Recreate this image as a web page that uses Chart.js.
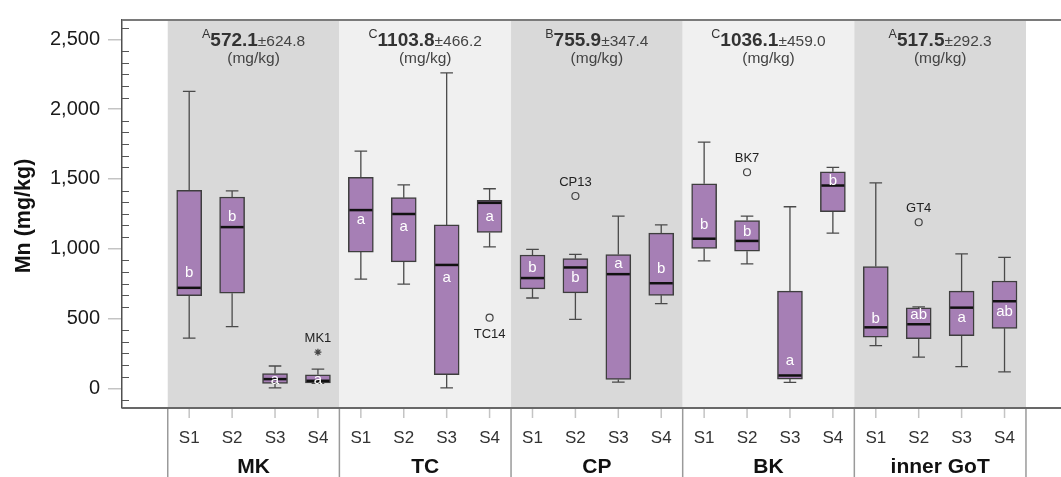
<!DOCTYPE html>
<html><head><meta charset="utf-8">
<script src="https://cdn.jsdelivr.net/npm/chart.js@4.4.1/dist/chart.umd.min.js"></script>
<style>html,body{margin:0;padding:0;background:#fff;} canvas{display:block;}</style>
</head><body>
<canvas id="c" width="1061" height="477"></canvas>
<script>
// ---------- data ----------
const groups = ['MK', 'TC', 'CP', 'BK', 'inner GoT'];
const seasons = ['S1', 'S2', 'S3', 'S4'];
const groupLetters = ['A', 'C', 'B', 'C', 'A'];
const groupMeans = [572.1, 1103.8, 755.9, 1036.1, 517.5];
const groupSD = [624.8, 466.2, 347.4, 459.0, 292.3];
// one entry per box: MK S1..S4, TC S1..S4, CP S1..S4, BK S1..S4, inner GoT S1..S4
const whiskerLow  = [360, 442, 3, 36,    783, 746, 3, 1014,    647, 494, 45, 607,    913, 892, 42, 1112,    306, 224, 155, 118];
const q1          = [663, 682, 35, 38,   976, 906, 97, 1117,   712, 684, 63, 666,    1002, 983, 66, 1266,   367, 356, 377, 430];
const median      = [720, 1155, 66, 54,  1277, 1249, 884, 1329, 790, 866, 818, 753,  1072, 1056, 92, 1453,  437, 459, 578, 624];
const q3          = [1418, 1371, 106, 97, 1512, 1366, 1171, 1347, 955, 929, 959, 1112, 1465, 1202, 696, 1552, 873, 576, 696, 769];
const whiskerHigh = [2128, 1414, 160, 137, 1700, 1458, 2260, 1430, 995, 959, 1234, 1171, 1764, 1234, 1301, 1583, 1472, 583, 964, 938];
const boxLetters  = ['b','b','a','a',  'a','a','a','a',  'b','b','a','b',  'b','b','a','b',  'b','ab','a','ab'];
// value (mg/kg) at which each significance letter sits inside its box
const letterAnchor = [830, 1230, 60, 59,  1210, 1155, 795, 1230,  866, 795, 894, 853,  1171, 1120, 200, 1488,  501, 529, 506, 548];
const outlierBox = [3, 7, 9, 13, 17];
const outlierValues = [259, 506, 1378, 1548, 1190];
const outlierNames = ['MK1', 'TC14', 'CP13', 'BK7', 'GT4'];
const outlierMarks = ['star', 'circle', 'circle', 'circle', 'circle'];
const outlierLabelSide = ['above', 'below', 'above', 'above', 'above'];
const yTicks = [0, 500, 1000, 1500, 2000, 2500];
const yTitle = 'Mn (mg/kg)';

// ---------- helpers ----------
const FONT = '"Liberation Sans", Arial, Helvetica, sans-serif';
const boxX = i => i + 0.5;
const HALF_BOX = 12.5;
const CAP = 6.3;

const boxData = q1.map((v, i) => ({ x: boxX(i), y: [v, q3[i]] }));
const outlierData = outlierValues.map((v, j) => ({ x: boxX(outlierBox[j]), y: v }));

const boxPlugin = {
  id: 'boxplotExtras',
  beforeDraw(chart) {
    const { ctx, chartArea: a, scales: { x } } = chart;
    ctx.save();
    groups.forEach((g, gi) => {
      const x0 = x.getPixelForValue(gi * 4), x1 = x.getPixelForValue(gi * 4 + 4);
      ctx.fillStyle = gi % 2 === 0 ? '#d9d9d9' : '#f0f0f0';
      ctx.fillRect(x0, a.top, x1 - x0, a.bottom - a.top);
    });
    ctx.restore();
  },
  beforeDatasetsDraw(chart) {
    const { ctx, scales: { x, y } } = chart;
    ctx.save();
    ctx.strokeStyle = '#4a4a4a';
    ctx.lineWidth = 1.3;
    q1.forEach((v, i) => {
      const px = x.getPixelForValue(boxX(i));
      const pairs = [[q3[i], whiskerHigh[i]], [v, whiskerLow[i]]];
      pairs.forEach(([from, to]) => {
        const p0 = y.getPixelForValue(from), p1 = y.getPixelForValue(to);
        ctx.beginPath();
        ctx.moveTo(px, p0); ctx.lineTo(px, p1);
        ctx.moveTo(px - CAP, p1); ctx.lineTo(px + CAP, p1);
        ctx.stroke();
      });
    });
    ctx.restore();
  },
  afterDatasetsDraw(chart) {
    const { ctx, chartArea: a, scales: { x, y } } = chart;
    ctx.save();
    // medians
    ctx.strokeStyle = '#111';
    ctx.lineWidth = 2.5;
    median.forEach((m, i) => {
      const px = x.getPixelForValue(boxX(i)), py = y.getPixelForValue(m);
      ctx.beginPath();
      ctx.moveTo(px - HALF_BOX + 1, py); ctx.lineTo(px + HALF_BOX - 1, py);
      ctx.stroke();
    });
    // letters inside boxes
    ctx.fillStyle = '#ffffff';
    ctx.font = '15px ' + FONT;
    ctx.textAlign = 'center';
    ctx.textBaseline = 'middle';
    letterAnchor.forEach((v, i) => {
      ctx.fillText(boxLetters[i], x.getPixelForValue(boxX(i)), y.getPixelForValue(v));
    });
    // outlier labels
    ctx.fillStyle = '#222';
    ctx.font = '13px ' + FONT;
    outlierValues.forEach((v, j) => {
      const px = x.getPixelForValue(boxX(outlierBox[j])), py = y.getPixelForValue(v);
      ctx.fillText(outlierNames[j], px, outlierLabelSide[j] === 'above' ? py - 14 : py + 17);
    });
    // group headers
    groups.forEach((g, gi) => {
      const cx = (x.getPixelForValue(gi * 4) + x.getPixelForValue(gi * 4 + 4)) / 2;
      const sup = groupLetters[gi];
      const mean = groupMeans[gi].toFixed(1);
      const sd = '\u00b1' + groupSD[gi].toFixed(1);
      const fSup = '12.5px ' + FONT, fMean = 'bold 19px ' + FONT, fSd = '15.5px ' + FONT;
      ctx.font = fSup; const wSup = ctx.measureText(sup).width;
      ctx.font = fMean; const wMean = ctx.measureText(mean).width;
      ctx.font = fSd; const wSd = ctx.measureText(sd).width;
      let sx = cx - (wSup + wMean + wSd) / 2;
      ctx.textAlign = 'left';
      ctx.textBaseline = 'alphabetic';
      ctx.fillStyle = '#333';
      ctx.font = fSup; ctx.fillText(sup, sx, 38); sx += wSup;
      ctx.font = fMean; ctx.fillText(mean, sx, 46); sx += wMean;
      ctx.fillStyle = '#444';
      ctx.font = fSd; ctx.fillText(sd, sx, 46);
      ctx.textAlign = 'center';
      ctx.font = '15.5px ' + FONT;
      ctx.fillText('(mg/kg)', cx, 63);
    });
    ctx.restore();
  },
  afterDraw(chart) {
    const { ctx, chartArea: a, scales: { x, y } } = chart;
    const H = chart.height, W = chart.width;
    ctx.save();
    // y axis title
    ctx.translate(24, 216);
    ctx.rotate(-Math.PI / 2);
    ctx.fillStyle = '#111';
    ctx.font = 'bold 21.5px ' + FONT;
    ctx.textAlign = 'center';
    ctx.textBaseline = 'middle';
    ctx.fillText(yTitle, 0, 0);
    ctx.setTransform(1, 0, 0, 1, 0, 0);
    // minor ticks inside
    ctx.strokeStyle = '#555';
    ctx.lineWidth = 1;
    for (let k = -1; k <= 31; k++) {
      if (k % 6 === 0) continue;
      const py = Math.round(y.getPixelForValue(k * 500 / 6)) + 0.5;
      if (py < a.top || py > a.bottom) continue;
      ctx.beginPath(); ctx.moveTo(a.left, py); ctx.lineTo(a.left + 7, py); ctx.stroke();
    }
    // top & bottom frame
    ctx.lineWidth = 2;
    ctx.strokeStyle = '#7a7a7a';
    ctx.beginPath(); ctx.moveTo(a.left, a.top); ctx.lineTo(W, a.top); ctx.stroke();
    ctx.strokeStyle = '#686868';
    ctx.beginPath(); ctx.moveTo(a.left, a.bottom); ctx.lineTo(W, a.bottom); ctx.stroke();
    // x tick marks
    ctx.strokeStyle = '#c4c4c4';
    ctx.lineWidth = 1.5;
    q1.forEach((v, i) => {
      const px = x.getPixelForValue(boxX(i));
      ctx.beginPath(); ctx.moveTo(px, a.bottom + 1); ctx.lineTo(px, a.bottom + 10); ctx.stroke();
    });
    // group separators
    ctx.strokeStyle = '#9a9a9a';
    for (let gi = 0; gi <= groups.length; gi++) {
      const px = x.getPixelForValue(gi * 4);
      ctx.beginPath(); ctx.moveTo(px, a.bottom + 1); ctx.lineTo(px, H); ctx.stroke();
    }
    // season labels
    ctx.textAlign = 'center';
    ctx.textBaseline = 'middle';
    ctx.fillStyle = '#333';
    ctx.font = '17px ' + FONT;
    q1.forEach((v, i) => {
      ctx.fillText(seasons[i % 4], x.getPixelForValue(boxX(i)), 438);
    });
    // group labels
    ctx.fillStyle = '#111';
    ctx.font = 'bold 21px ' + FONT;
    groups.forEach((g, gi) => {
      ctx.fillText(g, x.getPixelForValue(gi * 4 + 2), 467);
    });
    ctx.restore();
  }
};

new Chart(document.getElementById('c'), {
  type: 'bar',
  data: {
    datasets: [
      {
        type: 'bar',
        data: boxData,
        backgroundColor: '#a67fb5',
        borderColor: '#3e3e3e',
        borderWidth: 1.5,
        borderSkipped: false,
        barThickness: 25
      },
      {
        type: 'scatter',
        data: outlierData,
        pointStyle: outlierMarks,
        pointRadius: 3.5,
        borderColor: '#444',
        backgroundColor: 'rgba(0,0,0,0)',
        borderWidth: 1.2
      }
    ]
  },
  options: {
    responsive: false,
    devicePixelRatio: 1,
    animation: false,
    layout: { padding: { top: 14, bottom: 69, left: 0, right: 0 } },
    plugins: { legend: { display: false }, tooltip: { enabled: false } },
    scales: {
      x: { type: 'linear', offset: false, grid: { offset: false }, min: -1.066, max: 20.695, display: false },
      y: {
        type: 'linear',
        min: -141,
        max: 2639,
        afterBuildTicks: s => { s.ticks = yTicks.map(v => ({ value: v })); },
        afterFit: s => { s.width = 122; },
        ticks: {
          padding: 8,
          color: '#1a1a1a',
          font: { family: FONT, size: 20 },
          callback: v => v.toLocaleString('en-US')
        },
        grid: { drawOnChartArea: false, color: '#c4c4c4', lineWidth: 1.5, tickLength: 14 },
        border: { display: true, color: '#505050', width: 1.5 },
        title: { display: false }
      }
    }
  },
  plugins: [boxPlugin]
});
</script>
</body></html>
